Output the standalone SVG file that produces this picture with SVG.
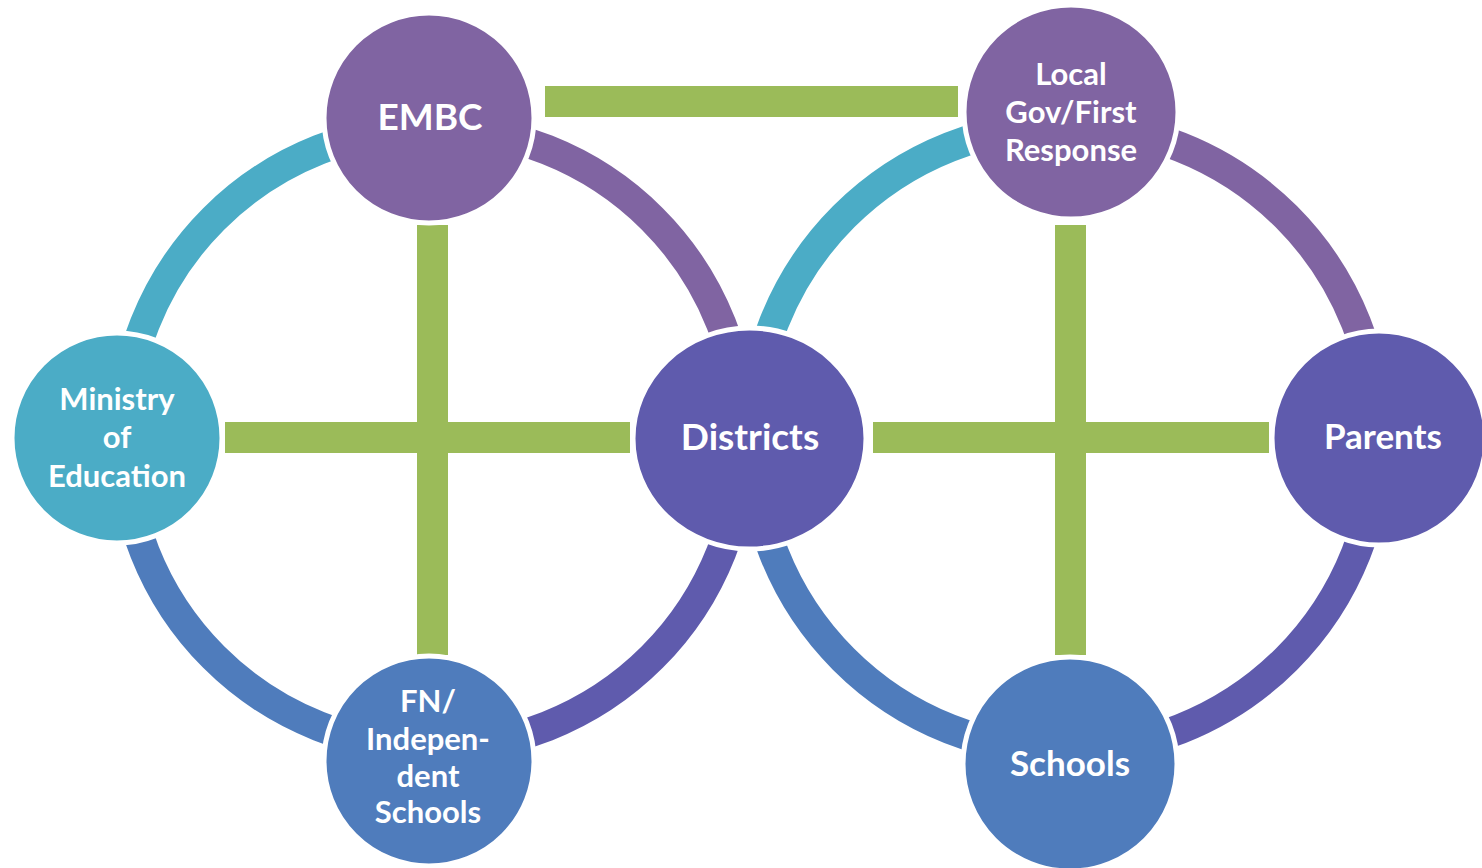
<svg xmlns="http://www.w3.org/2000/svg" width="1482" height="868" viewBox="0 0 1482 868">
<style>
.arc{fill:none;stroke-width:30}
.teal{stroke:#4BACC6}
.purple{stroke:#8064A2}
.indigo{stroke:#5F5BAD}
.blue{stroke:#4F7CBC}
.bar{fill:#9BBB59}
.node{stroke:#FFFFFF;stroke-width:5}
.lbl{font-family:Lato,"Liberation Sans",sans-serif;font-weight:700;fill:#FFFFFF;text-anchor:middle}
.big{font-size:37px}
.mid{font-size:35px}
.small{font-size:31px}
</style>
<rect width="1482" height="868" fill="#FFFFFF"/>
<g id="connectors">
<path class="arc teal" d="M123 438 A310 310 0 0 1 433 128"/>
<path class="arc purple" d="M433 128 A310 310 0 0 1 743 438"/>
<path class="arc indigo" d="M743 438 A310 310 0 0 1 433 748"/>
<path class="arc blue" d="M433 748 A310 310 0 0 1 123 438"/>
<path class="arc teal" d="M752 438 A313 313 0 0 1 1065 125"/>
<path class="arc purple" d="M1065 125 A313 313 0 0 1 1378 438"/>
<path class="arc indigo" d="M1378 438 A313 313 0 0 1 1065 751"/>
<path class="arc blue" d="M1065 751 A313 313 0 0 1 752 438"/>
<rect class="bar" x="545" y="86" width="413" height="31"/>
<rect class="bar" x="417" y="225" width="31" height="430"/>
<rect class="bar" x="225" y="422" width="405" height="31"/>
<rect class="bar" x="1055" y="225" width="31" height="430"/>
<rect class="bar" x="873" y="422" width="396" height="31"/>
</g>
<g id="embc">
<circle class="node" cx="429" cy="118" r="105" fill="#8064A2"/>
<text class="lbl big" x="430" y="130">EMBC</text>
</g>
<g id="localgov">
<circle class="node" cx="1071" cy="112" r="107" fill="#8064A2"/>
<text class="lbl small" x="1071" y="85">Local</text>
<text class="lbl small" x="1071" y="123">Gov/First</text>
<text class="lbl small" x="1071" y="161">Response</text>
</g>
<g id="ministry">
<circle class="node" cx="117" cy="438" r="105" fill="#4BACC6"/>
<text class="lbl small" x="117" y="410">Ministry</text>
<text class="lbl small" x="117" y="448">of</text>
<text class="lbl small" x="117" y="487">Education</text>
</g>
<g id="districts">
<ellipse class="node" cx="749.5" cy="438.5" rx="116.5" ry="110.5" fill="#5F5BAD"/>
<text class="lbl big" x="750" y="450">Districts</text>
</g>
<g id="parents">
<circle class="node" cx="1379" cy="438" r="107" fill="#5F5BAD"/>
<text class="lbl mid" x="1383" y="449">Parents</text>
</g>
<g id="fn">
<circle class="node" cx="429" cy="761" r="105" fill="#4F7CBC"/>
<text class="lbl small" x="428" y="712">FN/</text>
<text class="lbl small" x="428" y="750">Indepen-</text>
<text class="lbl small" x="428" y="787">dent</text>
<text class="lbl small" x="428" y="823">Schools</text>
</g>
<g id="schools">
<circle class="node" cx="1070" cy="764" r="107" fill="#4F7CBC"/>
<text class="lbl mid" x="1070" y="776">Schools</text>
</g>
</svg>
